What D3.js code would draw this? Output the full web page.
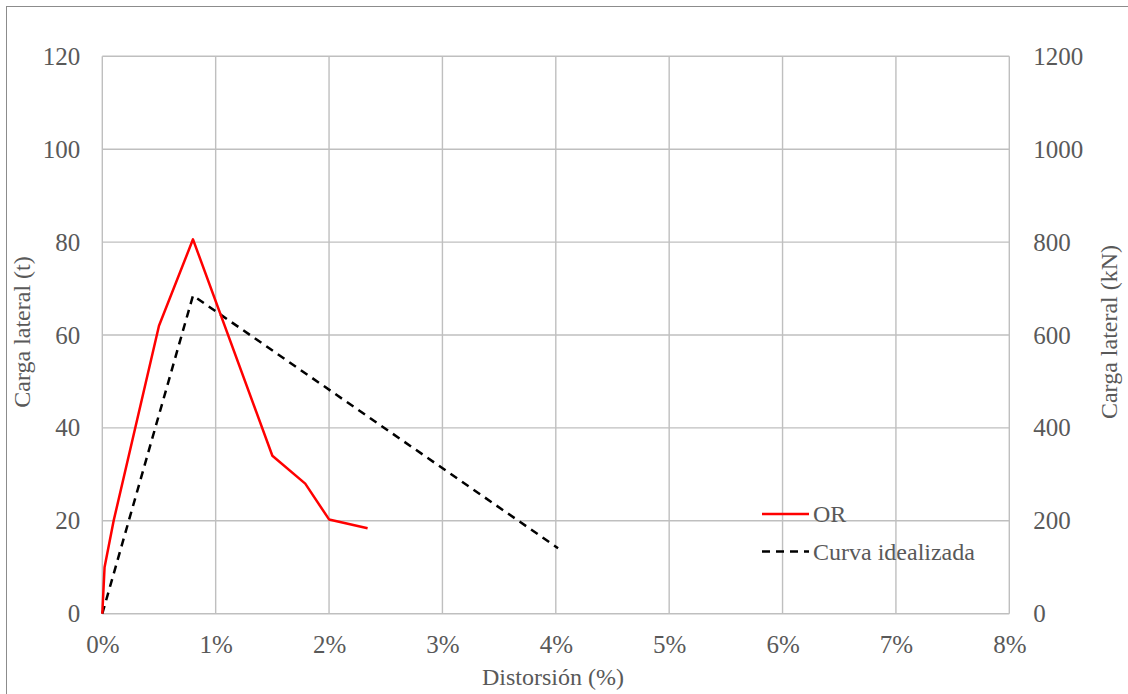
<!DOCTYPE html>
<html>
<head>
<meta charset="utf-8">
<script src="https://cdn.jsdelivr.net/npm/d3@7"></script>
<style>
  html, body { margin: 0; padding: 0; background: #fff; }
  svg { display: block; }
  text { font-family: "Times New Roman", "Liberation Serif", Times, "DejaVu Serif", serif; fill: #595959; }
</style>
</head>
<body>
<svg id="chart" width="1128" height="694"></svg>
<script>
// ---- data ----
const orX = [0, 0.02, 0.1, 0.5, 0.8, 1.5, 1.79, 2.0, 2.34];
const orY = [0, 10, 20, 62, 80.6, 34, 28, 20.3, 18.4];
const idealX = [0, 0.8, 4.02];
const idealY = [0, 68.5, 14.1];
const xTicks = [0, 1, 2, 3, 4, 5, 6, 7, 8];
const yTicksLeft = [0, 20, 40, 60, 80, 100, 120];
const yTicksRight = [0, 200, 400, 600, 800, 1000, 1200];
const seriesNames = ["OR", "Curva idealizada"];
const xTitle = "Distorsión (%)";
const yTitleLeft = "Carga lateral (t)";
const yTitleRight = "Carga lateral (kN)";

// ---- layout ----
const FONT = '"Times New Roman", "Liberation Serif", Times, "DejaVu Serif", serif';
const svg = d3.select("#chart");
const L = 102.3, R = 1009.3, T = 56.3, B = 613.7;

const x = d3.scaleLinear().domain([0, 8]).range([L, R]);
const y = d3.scaleLinear().domain([0, 120]).range([B, T]);
const y2 = d3.scaleLinear().domain([0, 1200]).range([B, T]);

// outer border (chart area frame)
svg.append("rect").attr("x", 6.5).attr("y", 6.5).attr("width", 1140).attr("height", 700)
  .attr("fill", "none").attr("stroke", "#8c8c8c").attr("stroke-width", 1);

// gridlines
const grid = svg.append("g").attr("stroke", "#bfbfbf").attr("stroke-width", 1.4);
xTicks.forEach(t => grid.append("line").attr("x1", x(t)).attr("x2", x(t)).attr("y1", T).attr("y2", B));
yTicksLeft.forEach(t => grid.append("line").attr("x1", L).attr("x2", R).attr("y1", y(t)).attr("y2", y(t)));

// axes (text only, via d3 axes)
const axL = svg.append("g").attr("transform", `translate(${L},0)`)
  .call(d3.axisLeft(y).tickValues(yTicksLeft).tickFormat(d3.format("d")).tickSize(0).tickPadding(22));
const axR = svg.append("g").attr("transform", `translate(${R},0)`)
  .call(d3.axisRight(y2).tickValues(yTicksRight).tickFormat(d3.format("d")).tickSize(0).tickPadding(24));
const axB = svg.append("g").attr("transform", `translate(0,${B})`)
  .call(d3.axisBottom(x).tickValues(xTicks).tickFormat(d => d + "%").tickSize(0).tickPadding(22));
[axL, axR, axB].forEach(a => {
  a.attr("font-family", FONT).attr("font-size", 25);
  a.select(".domain").remove();
  a.selectAll("text").style("font-family", FONT)
    .style("font-size", "25px").attr("fill", "#595959");
});

// series
const line = d3.line().x(d => x(d[0])).y(d => y(d[1]));
const orData = orX.map((v, i) => [v, orY[i]]);
const idealData = idealX.map((v, i) => [v, idealY[i]]);

svg.append("path").datum(idealData).attr("d", line)
  .attr("fill", "none").attr("stroke", "#000").attr("stroke-width", 2.5)
  .attr("stroke-dasharray", "8,6");
svg.append("path").datum(orData).attr("d", line)
  .attr("fill", "none").attr("stroke", "#ff0000").attr("stroke-width", 2.5)
  .attr("stroke-linejoin", "round");

// legend
const lg = svg.append("g");
const legY = [514, 551.5];
lg.append("line").attr("x1", 762).attr("x2", 809).attr("y1", legY[0]).attr("y2", legY[0])
  .attr("stroke", "#ff0000").attr("stroke-width", 2.5);
lg.append("line").attr("x1", 762).attr("x2", 809).attr("y1", legY[1]).attr("y2", legY[1])
  .attr("stroke", "#000").attr("stroke-width", 2.5).attr("stroke-dasharray", "8,6");
seriesNames.forEach((n, i) => {
  lg.append("text").attr("x", 813).attr("y", legY[i]).attr("dy", "0.35em")
    .style("font-family", FONT).style("font-size", "24px").text(n);
});

// axis titles
svg.append("text").attr("x", 553).attr("y", 685).attr("text-anchor", "middle")
  .style("font-family", FONT).style("font-size", "24px").text(xTitle);
svg.append("text").attr("transform", `translate(30,${(T + B) / 2 - 3}) rotate(-90)`)
  .attr("text-anchor", "middle").style("font-family", FONT).style("font-size", "24px").text(yTitleLeft);
svg.append("text").attr("transform", `translate(1117,${(T + B) / 2 - 3}) rotate(-90)`)
  .attr("text-anchor", "middle").style("font-family", FONT).style("font-size", "24px").text(yTitleRight);
</script>
</body>
</html>
